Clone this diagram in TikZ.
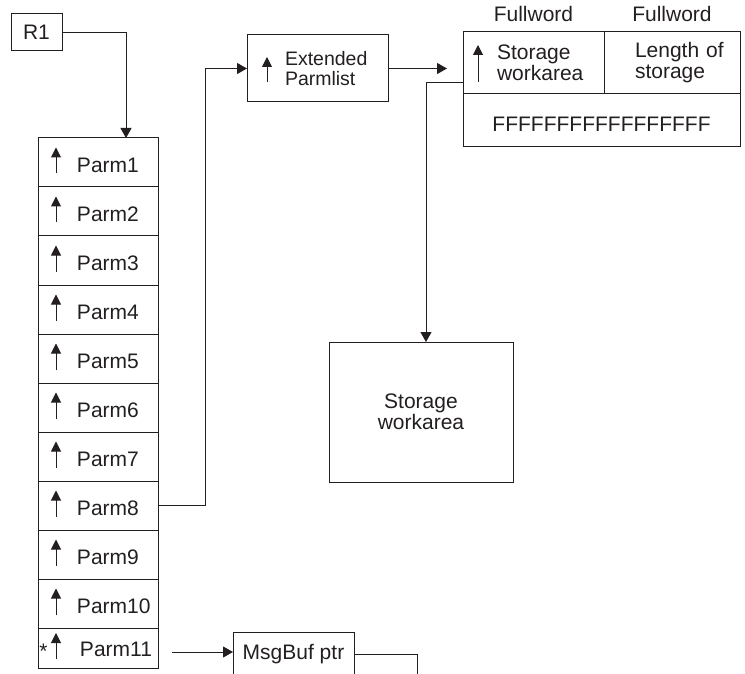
\documentclass[tikz,border=0pt]{standalone}
\usepackage{fontspec}
\setmainfont{Liberation Sans}
\usetikzlibrary{arrows.meta}
\definecolor{ink}{HTML}{231F20}

\begin{document}
\begin{tikzpicture}[
    x=1pt, y=-1pt, line width=1pt, color=ink,
    box/.style={draw, inner sep=0pt, outer sep=0pt, font=\fontsize{21}{21}\selectfont},
    lpad/.style={execute at begin node={\leftskip=#1}},
    row/.style={box, anchor=north west, minimum width=120pt, minimum height=49pt,
                text width=106pt, inner xsep=7pt, align=left,
                text height=20pt, text depth=0pt, lpad=32pt},
    lbl/.style={inner sep=0pt, font=\fontsize{21}{21}\selectfont},
    conn/.style={-{Triangle[length=10pt, width=11pt]}},
    ptr/.style={-{Triangle[length=10pt, width=10pt]}}
  ]
    \useasboundingbox (0,0) rectangle (745,674);

    \node[box, minimum width=51pt, minimum height=37pt] (r1) at (36.5,32.5) {R1};

    % parameter list
    \node[row] (parm1) at (38,138) {Parm1};
    \node[row] (parm2) at (parm1.south west) {Parm2};
    \node[row] (parm3) at (parm2.south west) {Parm3};
    \node[row] (parm4) at (parm3.south west) {Parm4};
    \node[row] (parm5) at (parm4.south west) {Parm5};
    \node[row] (parm6) at (parm5.south west) {Parm6};
    \node[row] (parm7) at (parm6.south west) {Parm7};
    \node[row] (parm8) at (parm7.south west) {Parm8};
    \node[row] (parm9) at (parm8.south west) {Parm9};
    \node[row] (parm10) at (parm9.south west) {Parm10};
    \node[row, minimum height=40pt, text height=16pt, lpad=35pt] (parm11)
      at (parm10.south west) {Parm11};
    \node[lbl] (ast) at ([xshift=5.5pt, yshift=-3pt]parm11.west) {*};

    \foreach \i in {1,...,11}
      \draw[ptr] ([xshift=18pt, yshift=-11pt]parm\i.west) -- ++(0,-26);

    % extended parmlist
    \node[box, minimum width=141pt, minimum height=67pt, text width=141pt,
          align=left, lpad=38pt, font=\fontsize{19.5}{20}\selectfont]
      (ext) at (317.5,68.5) {Extended\\Parmlist};
    \draw[ptr] ([xshift=20pt, yshift=-13.5pt]ext.west) -- ++(0,-25);

    % storage table
    \node[box, anchor=north west, minimum width=141pt, minimum height=62pt,
          text width=141pt, align=left, lpad=34pt]
      (cellL) at (463,32) {Storage\\workarea};
    \node[box, anchor=north west, minimum width=136pt, minimum height=62pt,
          text width=136pt, align=left, lpad=31pt]
      (cellR) at (cellL.north east) {Length of\\storage};
    \node[box, anchor=north west, minimum width=277pt, minimum height=53pt,
          text height=22pt, text depth=0pt]
      (cellF) at (cellL.south west) {FFFFFFFFFFFFFFFFF};
    \node[lbl, anchor=base] (fwL) at ([yshift=10pt]cellL.north) {Fullword};
    \node[lbl, anchor=base] (fwR) at ([yshift=10pt]cellR.north) {Fullword};
    \draw[ptr] ([xshift=15pt, yshift=-19pt]cellL.west) -- ++(0,-37);

    \node[box, minimum width=184pt, minimum height=140pt, align=center]
      (stor) at (421,412) {Storage\\workarea};

    \node[box, anchor=north west, minimum width=121pt, minimum height=45pt]
      (msg) at (233,632) {MsgBuf ptr};
    \coordinate (msgend) at (417,676);

    % connectors
    \draw[conn] (r1.east) -| ([xshift=28pt]parm1.north);
    \draw[conn] (parm8.east) -- ++(47,0) |- (ext.west);
    \draw[conn, shorten >=16pt] (ext.east) -- (ext.east -| cellL.west);
    \draw[conn] ([yshift=-20pt]cellL.west) -| ([xshift=5pt]stor.north);
    \draw[conn, shorten <=14pt] ([yshift=-4pt]parm11.east)
      -- ([yshift=-4pt]parm11.east -| msg.west);
    \draw (msg.east) -| (msgend);
  \end{tikzpicture}
\end{document}
